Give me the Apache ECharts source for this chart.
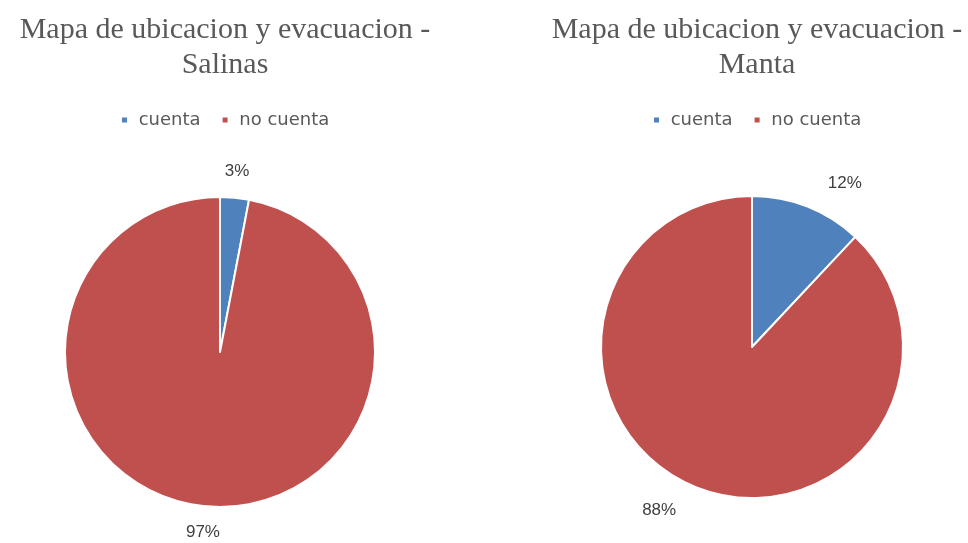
<!DOCTYPE html>
<html>
<head>
<meta charset="utf-8">
<script src="https://cdn.jsdelivr.net/npm/echarts@6/dist/echarts.min.js"></script>
<style>
  html, body { margin: 0; padding: 0; background: #fff; }
  #main { width: 968px; height: 543px; }
</style>
</head>
<body>
<div id="main"></div>
<script>
  // datos
  var categorias = ['cuenta', 'no cuenta'];
  var salinas = [3, 97];
  var manta = [12, 88];
  var titulos = ['Mapa de ubicacion y evacuacion -\nSalinas', 'Mapa de ubicacion y evacuacion -\nManta'];
  var colores = ['#4F81BD', '#C0504D'];

  var myChart = echarts.init(document.getElementById('main'));

  function toData(vals) {
    return categorias.map(function (c, i) { return { name: c, value: vals[i] }; });
  }

  var labelFont = {
    fontFamily: 'Liberation Sans, sans-serif',
    fontSize: 17,
    color: '#404040'
  };

  // pie principal
  function pie(center, r, vals) {
    return {
      type: 'pie',
      center: center,
      radius: r,
      startAngle: 90,
      clockwise: true,
      data: toData(vals),
      label: { show: false },
      labelLine: { show: false },
      itemStyle: { borderColor: '#fff', borderWidth: 2 },
      emphasis: { disabled: true }
    };
  }

  // anillo transparente solo para las etiquetas (fuera del pie)
  // startAngle un poco girado = "ajuste perfecto" de excel
  function labels(center, r0, r1, vals, start) {
    return {
      type: 'pie',
      center: center,
      radius: [r0, r1],
      startAngle: start,
      clockwise: true,
      silent: true,
      data: toData(vals),
      itemStyle: { color: 'rgba(0,0,0,0)' },
      label: Object.assign({
        show: true,
        position: 'inside',
        formatter: '{c}%'
      }, labelFont),
      labelLine: { show: false },
      emphasis: { disabled: true }
    };
  }

  function legend(left) {
    return {
      data: categorias,
      top: 111,
      left: left,
      padding: 0,
      icon: 'rect',
      itemWidth: 7,
      itemHeight: 7,
      itemGap: 20,
      selectedMode: false,
      formatter: ' {name}',
      textStyle: {
        fontFamily: 'DejaVu Sans, sans-serif',
        fontSize: 18,
        color: '#595959'
      }
    };
  }

  function title(text, left) {
    return {
      text: text,
      left: left,
      top: 8,
      textAlign: 'center',
      textStyle: {
        fontFamily: 'Liberation Serif, serif',
        fontWeight: 'normal',
        fontSize: 30,
        lineHeight: 35,
        color: '#595959'
      }
    };
  }

  myChart.setOption({
    color: colores,
    animation: false,
    title: [title(titulos[0], 220), title(titulos[1], 752)],
    legend: [legend(120), legend(652)],
    series: [
      pie([220, 352], 155, salinas),
      pie([752, 347], 151, manta),
      labels([220, 352], 166, 190, salinas, 90),
      labels([752, 347], 173, 197, manta, 82)
    ]
  });
</script>
</body>
</html>
